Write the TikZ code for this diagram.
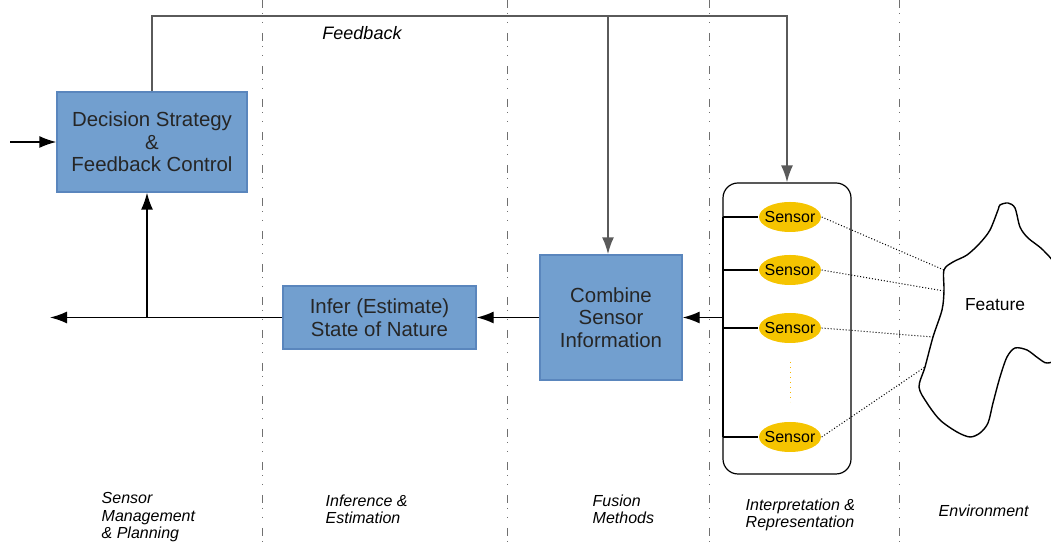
\documentclass[tikz,border=0pt]{standalone}
\usepackage{fontspec}
\setmainfont{Liberation Sans}
\usetikzlibrary{arrows.meta,shapes.geometric}
\definecolor{boxblue}{HTML}{729FCF}
\definecolor{boxedge}{HTML}{5A86BD}
\definecolor{sensoryellow}{HTML}{F5C400}
\definecolor{sepgray}{HTML}{707070}
\definecolor{fbgray}{HTML}{5A5A5A}
\tikzset{
  stagebox/.style={draw=boxedge, fill=boxblue, align=center, inner sep=0pt,
    text=black!85, font=\fontsize{10.2}{11.3}\selectfont},
  sensor/.style={ellipse, fill=sensoryellow, minimum width=31pt,
    minimum height=15pt, inner xsep=-4pt, inner ysep=-2pt,
    font=\fontsize{8}{9}\selectfont},
  arr/.style={-{Latex[length=8.5pt,width=6pt]}},
  separator/.style={sepgray, line width=0.5pt,
    dash pattern=on 4pt off 2.5pt on 0.5pt off 4pt on 0.5pt off 5pt},
  sensorlink/.style={densely dotted, line width=0.5pt},
  column/.style={anchor=base west, align=left, inner sep=0pt,
    font=\itshape\fontsize{8}{8.8}\selectfont}
}

\begin{document}
\begin{tikzpicture}[x=0.5pt, y=-0.5pt, line width=0.7pt]
  % \draw[help lines] (0,0) grid (1051,544);
  \useasboundingbox (0,0) rectangle (1051,544);

  \draw[separator] (262,0) -- (262,544);
  \draw[separator] (507,0) -- (507,544);
  \draw[separator] (709,0) -- (709,544);
  \draw[separator] (899,0) -- (899,544);

  \node[stagebox, minimum width=95pt, minimum height=50pt] (decision)
    at (152,142) {Decision Strategy\\ \&\\ Feedback Control};
  \node[stagebox, minimum width=96.5pt, minimum height=31.5pt] (infer)
    at (379.5,317.5) {Infer (Estimate)\\ State of Nature};
  \node[stagebox, minimum width=71pt, minimum height=62.5pt] (combine)
    at (611,317.5) {Combine\\ Sensor\\ Information};

  \node[draw, rounded corners=7.5pt, minimum width=64pt,
    minimum height=145.5pt, line width=0.6pt] (sensorbox) at (787,328.5) {};

  \node[sensor] (s1) at (790,217) {Sensor};
  \node[sensor] (s2) at (790,270) {Sensor};
  \node[sensor] (s3) at (790,328) {Sensor};
  \node[sensor] (s4) at (790,437) {Sensor};
  \draw[sensoryellow!80!orange, dotted, line width=0.5pt] (790,362) -- (790,402);

  \node[font=\itshape\fontsize{9}{10}\selectfont] (fblabel) at (362,33) {Feedback};

  % feedback loop
  \coordinate (fbright) at (787,16);
  \coordinate (fbsplit) at (608,16);
  \draw[arr, fbgray, line width=0.9pt] (decision.north) |- (fbright)
    -- (sensorbox.north);
  \draw[arr, fbgray, line width=0.9pt] (fbsplit) -- (fbsplit |- combine.north);

  % main chain
  \coordinate (input) at (10,142);
  \coordinate (output) at (50,317.5);
  \coordinate (tap) at (147,317.5);
  \draw[arr] (input) -- (decision.west);
  \draw[arr] (combine.west) -- (infer.east);
  \draw[arr] (infer.west) -- (output);
  \draw[arr] (tap) -- (tap |- decision.south);

  % sensor bus
  \coordinate (bustop) at (723,217);
  \coordinate (busbot) at (723,437);
  \coordinate (busmid) at (723,317.5);
  \draw (bustop) -- (busbot);
  \draw (bustop) -- (s1.west);
  \draw (s2.west -| bustop) -- (s2.west);
  \draw (s3.west -| bustop) -- (s3.west);
  \draw (busbot) -- (s4.west);
  \draw[arr] (busmid) -- (combine.east);

  % environment
  \coordinate (f1) at (944,270);
  \coordinate (f2) at (944,291);
  \coordinate (f3) at (933,337);
  \coordinate (f4) at (925,367);
  \draw[line width=0.7pt] plot[smooth cycle, tension=0.5] coordinates {
    (1000,205) (1008,203) (1015,208) (1020,227) (1028,238) (1043,250)
    (1056,268) (1060,310) (1056,356) (1047,363) (1038,358) (1027,350)
    (1015,348) (1007,357) (1000,377) (993,403) (988,423) (980,433)
    (970,437) (957,432) (940,420) (927,403) (919,387) (f4) (f3)
    (942,310) (f2) (f1) (953,262) (967,255) (980,243) (990,230) (998,210)};
  \node[font=\fontsize{8.7}{10}\selectfont] (feature) at (995,305) {Feature};

  \draw[sensorlink] (s1.east) -- (f1);
  \draw[sensorlink] (s2.east) -- (f2);
  \draw[sensorlink] (s3.east) -- (f3);
  \draw[sensorlink] (s4.east) -- (f4);

  \node[column] (col1) at (101,539) {Sensor\\ Management\\ \& Planning};
  \node[column] (col2) at (325,524) {Inference \&\\ Estimation};
  \node[column] (col3) at (592,524) {Fusion\\ Methods};
  \node[column] (col4) at (745,528) {Interpretation \&\\ Representation};
  \node[column] (col5) at (938,517) {Environment};

\end{tikzpicture}
\end{document}
